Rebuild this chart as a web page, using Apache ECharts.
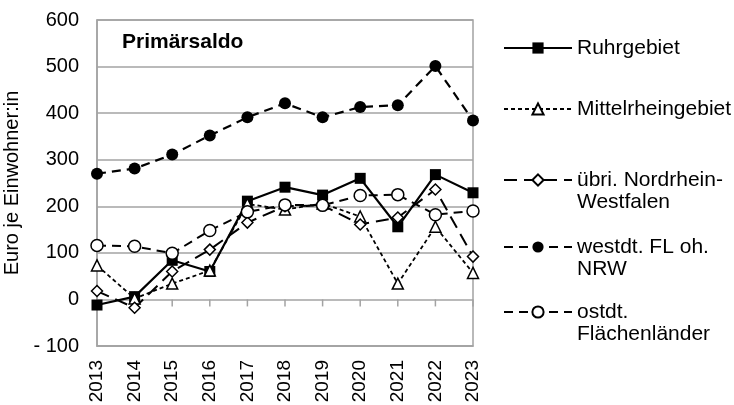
<!DOCTYPE html>
<html>
<head>
<meta charset="utf-8">
<script src="https://cdn.jsdelivr.net/npm/echarts@6/dist/echarts.min.js"></script>
<style>html,body{margin:0;padding:0;background:#fff}#c{width:734px;height:405px}</style>
</head>
<body>
<div id="c"></div>
<script>
const years = ['2013','2014','2015','2016','2017','2018','2019','2020','2021','2022','2023'];
const ruhrgebiet = [-12, 6, 84, 60, 211, 241, 224, 260, 156, 268, 229];
const mittelrhein = [73, 2, 34, 62, 205, 193, 206, 178, 34, 156, 57];
const uebriNRW = [18, -18, 60, 107, 165, 200, 202, 161, 176, 236, 92];
const westdt = [270, 281, 311, 352, 391, 421, 391, 413, 417, 501, 384];
const ostdt = [116, 114, 99, 148, 188, 203, 202, 223, 225, 182, 190];
const yTicks = {min: -100, max: 600, step: 100};

const FONT = "'Liberation Sans', Arial, sans-serif";
const GRID = '#a3a3a3';
const LH = 22;

const seriesDefs = [
  {name: 'Ruhrgebiet', data: ruhrgebiet, symbol: 'rect', size: 11, fill: '#000', dash: 'solid', lw: 2.2, icon: 47, lines: ['Ruhrgebiet']},
  {name: 'Mittelrheingebiet', data: mittelrhein, symbol: 'triangle', size: 11, fill: '#fff', dash: [4, 3], lw: 1.8, icon: 108, lines: ['Mittelrheingebiet']},
  {name: 'übri. Nordrhein-Westfalen', data: uebriNRW, symbol: 'diamond', size: 11, fill: '#fff', dash: [13, 7], lw: 2, icon: 179, lines: ['übri. Nordrhein-', 'Westfalen']},
  {name: 'westdt. FL oh. NRW', data: westdt, symbol: 'circle', size: 12, fill: '#000', dash: [9, 6], lw: 2.2, icon: 246, lines: ['westdt. FL oh.', 'NRW']},
  {name: 'ostdt. Flächenländer', data: ostdt, symbol: 'circle', size: 12, fill: '#fff', dash: [9, 6], lw: 2, icon: 311, lines: ['ostdt.', 'Flächenländer']}
];

const series = seriesDefs.map(d => ({
  name: d.name,
  type: 'line',
  data: d.data,
  symbol: d.symbol,
  symbolSize: d.size,
  showAllSymbol: true,
  animation: false,
  z: 3,
  lineStyle: {color: '#000', width: d.lw, type: d.dash},
  itemStyle: {color: d.fill, borderColor: '#000', borderWidth: d.fill === '#fff' ? 1.5 : 0}
}));

// tick marks along the zero line, positioned through the axis scales
series.unshift({
  type: 'custom',
  name: 'zeroTicks',
  silent: true,
  animation: false,
  z: 1,
  data: years.map(y => [y, 0]),
  renderItem: (params, api) => {
    const p = api.coord([api.value(0), 0]);
    return {
      type: 'line',
      shape: {x1: p[0], y1: p[1], x2: p[0], y2: p[1] + 7},
      style: {stroke: GRID, lineWidth: 1.5}
    };
  }
});

const legends = seriesDefs.map(d => {
  const two = d.lines.length > 1;
  const label = two ? ' \n' + d.lines.join('\n') : d.lines[0];
  return {
    data: [d.name],
    left: 498,
    top: two ? d.icon - 1.5 * LH - 4 : d.icon - LH / 2 - 4,
    orient: 'vertical',
    itemWidth: 68,
    itemHeight: 14,
    itemGap: 0,
    selectedMode: false,
    formatter: () => label,
    textStyle: {fontFamily: FONT, fontSize: 21, color: '#000', lineHeight: LH}
  };
});

const chart = echarts.init(document.getElementById('c'), null, {renderer: 'canvas'});
chart.setOption({
  animation: false,
  backgroundColor: '#fff',
  title: {
    text: 'Primärsaldo', left: 117, top: 27,
    textStyle: {fontFamily: FONT, fontSize: 21, fontWeight: 'bold', color: '#000'}
  },
  legend: legends,
  grid: {left: 97, right: 261, top: 20, bottom: 59, containLabel: false, outerBoundsMode: 'none',
    show: true, borderColor: GRID, borderWidth: 1.5, backgroundColor: 'transparent'},
  xAxis: {
    type: 'category',
    data: years,
    boundaryGap: false,
    axisLine: {onZero: false, lineStyle: {color: GRID, width: 1.5}},
    axisTick: {show: false},
    axisLabel: {rotate: 90, margin: 14, fontFamily: FONT, fontSize: 19, color: '#000'},
    splitLine: {show: false}
  },
  yAxis: {
    type: 'value',
    min: yTicks.min, max: yTicks.max, interval: yTicks.step,
    name: 'Euro je Einwohner:in',
    nameLocation: 'middle',
    nameGap: 74,
    nameTextStyle: {fontFamily: FONT, fontSize: 20, color: '#000'},
    axisLine: {show: true, lineStyle: {color: GRID, width: 1.5}},
    axisTick: {show: false},
    axisLabel: {margin: 18, fontFamily: FONT, fontSize: 20, color: '#000',
      formatter: v => v < 0 ? '- ' + Math.abs(v) : String(v)},
    splitLine: {show: true, lineStyle: {color: GRID, width: 1.5}}
  },
  series: series
});
</script>
</body>
</html>
